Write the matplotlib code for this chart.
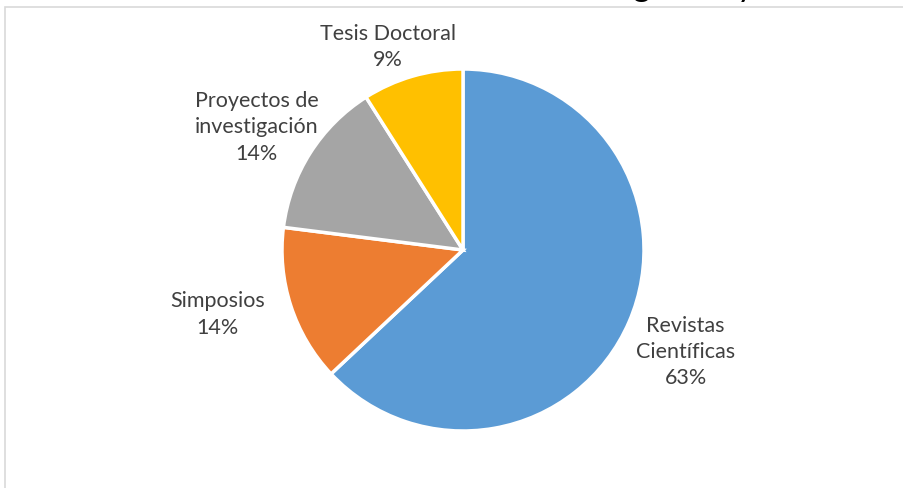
import matplotlib as mpl
mpl.use('Agg')
import matplotlib.pyplot as plt
import numpy as np
from matplotlib.patches import Rectangle

plt.rcParams['font.family'] = ['Lato', 'DejaVu Sans']

# datos
categorias = ['Revistas\nCientíficas', 'Simposios', 'Proyectos de\ninvestigación', 'Tesis Doctoral']
valores = [63, 14, 14, 9]
colores = ['#5B9BD5', '#ED7D31', '#A5A5A5', '#FFC000']
titulo = 'Producción científica de investigación y docencia'

# distancias de las etiquetas (ajuste manual tipo Excel)
dist_lab = [1.35, 1.40, 1.33, 1.20]
desv_ang = [-1.0, -3.5, 1.5, 4.0]

W, H = 904, 489
fig = plt.figure(figsize=(W/100, H/100), dpi=100)

# marco del grafico
fig.patches.append(Rectangle((5/W, -0.1), 1.2, (H-8)/H + 0.1, transform=fig.transFigure,
                             fill=False, edgecolor='#D9D9D9', linewidth=1.2))

# titulo cortado arriba
fig.text(535/W, 1 + 4/H, titulo, ha='center', va='baseline', fontsize=24, color='black')

cx, cy, r = 463, 251, 181
ax = fig.add_axes([(cx-r)/W, (H-cy-r)/H, 2*r/W, 2*r/H])
wedges, _ = ax.pie(valores, colors=colores, startangle=90, counterclock=False,
                   wedgeprops=dict(edgecolor='white', linewidth=2.5))
ax.set_xlim(-1, 1)
ax.set_ylim(-1, 1)
ax.set_aspect('equal')
ax.axis('off')

total = sum(valores)
for w, cat, v, d, da in zip(wedges, categorias, valores, dist_lab, desv_ang):
    ang = np.deg2rad((w.theta1 + w.theta2) / 2 + da)
    ax.text(d*np.cos(ang), d*np.sin(ang), '%s\n%d%%' % (cat, round(v/total*100)),
            ha='center', va='center', fontsize=15.5, color='#404040',
            linespacing=1.4, clip_on=False)

fig.savefig('out.png', dpi=100)
